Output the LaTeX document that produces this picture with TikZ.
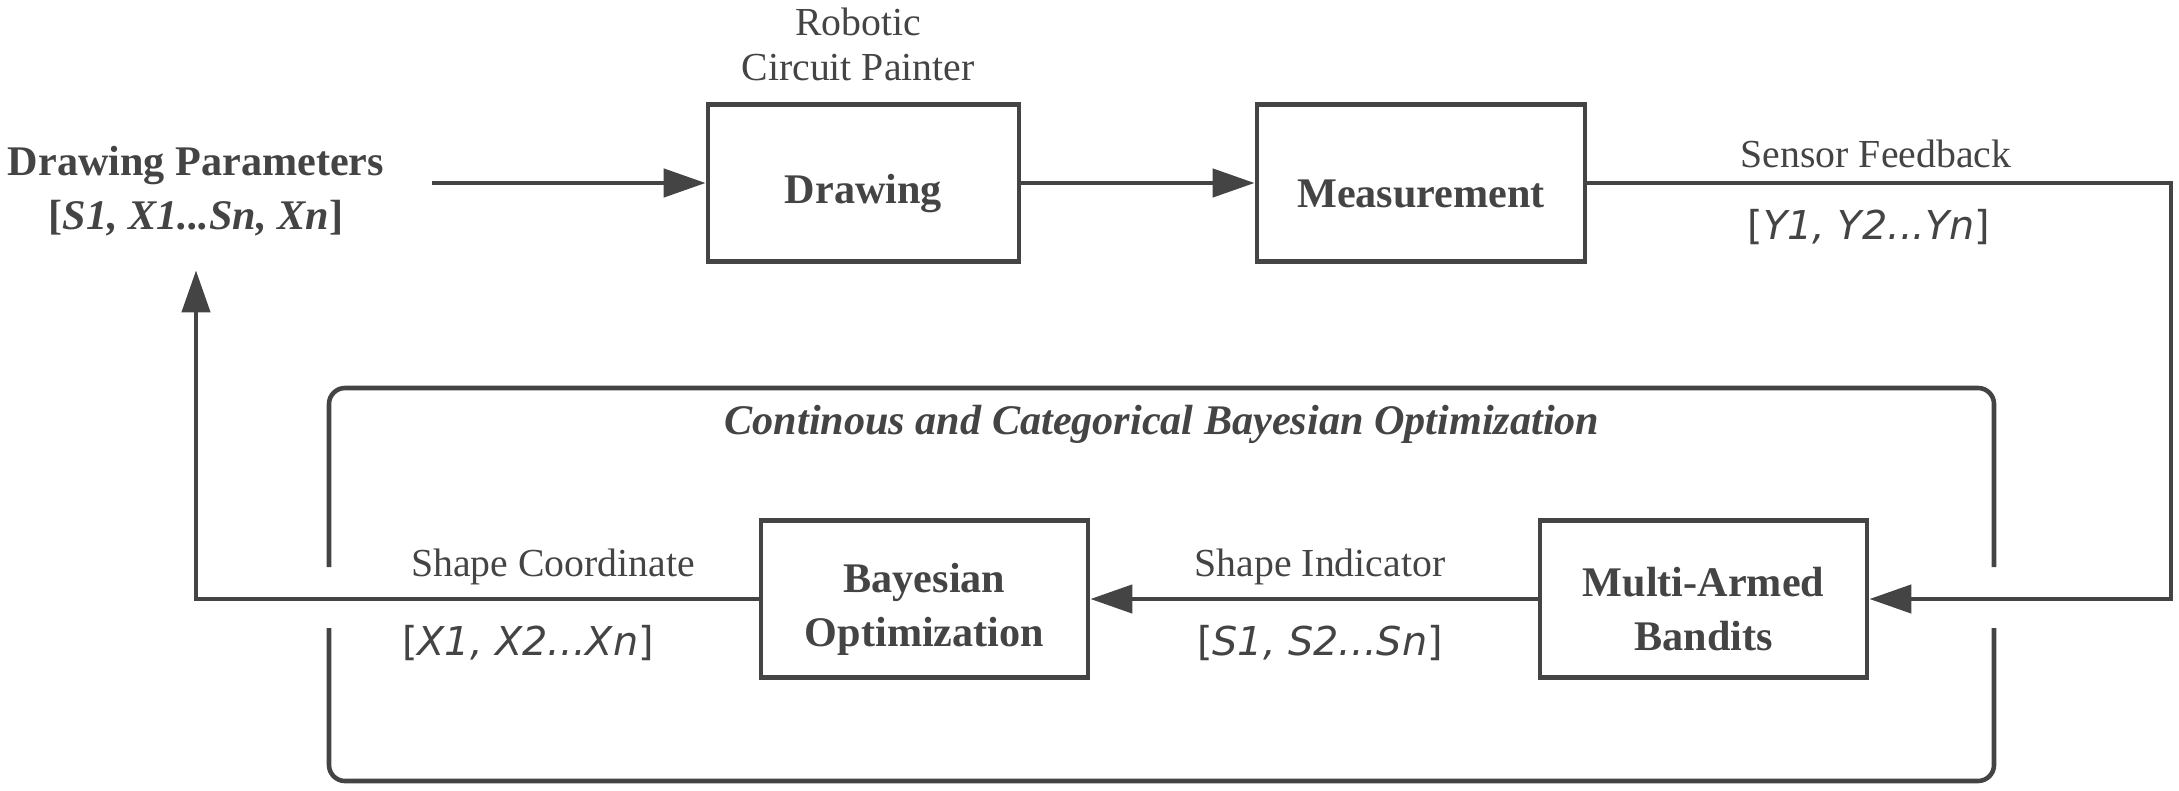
\documentclass[tikz,border=0pt]{standalone}
\usepackage{fontspec}
\setmainfont{Liberation Serif}
\newfontfamily\vecfont{DejaVu Sans}
\usetikzlibrary{arrows.meta,positioning}
\definecolor{ink}{RGB}{68,68,68}
\newcommand{\blockfont}{\fontsize{12}{15.4}\selectfont\bfseries}
\newcommand{\notefont}{\fontsize{11.3}{12.8}\selectfont}
\newcommand{\vecsize}{\fontsize{11.3}{12.8}\selectfont\vecfont}
\newcommand{\boxstrut}{\rule{0pt}{5mm}}

\tikzset{
  block/.style={draw=ink, line width=1.3pt, minimum width=3.27cm, minimum height=1.57cm,
    align=center, text=ink, font=\blockfont},
  flow/.style={draw=ink, line width=1.3pt, -{Triangle[length=4.2mm,width=2.8mm]}},
  wire/.style={draw=ink, line width=1.3pt, rounded corners=1.6mm},
  note/.style={text=ink, align=center, font=\notefont},
  vec/.style={text=ink, font=\vecsize},
}

\begin{document}
\begin{tikzpicture}[x=0.01cm,y=-0.01cm]
  \useasboundingbox (0,0) rectangle (2179,791);
  % top row
  \node[block, minimum width=3.11cm] (drawing) at (863.5,183) {\boxstrut Drawing};
  \node[block, minimum width=3.28cm] (measure) at (1421,183) {\boxstrut Measurement};
  \node[note, font=\blockfont, align=center] (params) at (196,191)
    {Drawing Parameters\\{[}\textit{S1, X1...Sn, Xn}]};
  \node[note] (painter) at (858,44) {Robotic\\Circuit Painter};
  \node[note] (sensor) at (1876,154) {Sensor Feedback};
  \node[vec] (ylist) at (1869,227) {[\textit{Y1, Y2...Yn}]};
  % bottom row
  \node[block] (bayes) at (924.5,599) {\boxstrut Bayesian\\Optimization};
  \node[block] (bandit) at (1703.5,599) {\boxstrut Multi-Armed\\Bandits};
  \node[note] (coordlbl) at (553,567) {Shape Coordinate};
  \node[vec] (xlist) at (528,643) {[\textit{X1, X2...Xn}]};
  \node[note] (indlbl) at (1320,567) {Shape Indicator};
  \node[vec] (slist) at (1320,643) {[\textit{S1, S2...Sn}]};
  \node[note, font=\blockfont] (loop) at (1162,424)
    {\textit{Continous and Categorical Bayesian Optimization}};
  \coordinate (turn) at (2171,599);
  % frame around the optimizer
  \draw[wire] (329,567) -- (329,388) -- (1994,388) -- (1994,567);
  \draw[wire] (329,628) -- (329,781) -- (1994,781) -- (1994,628);
  % connectors
  \draw[flow, shorten <=3.5mm] (params.east |- drawing.west) -- (drawing.west);
  \draw[flow] (drawing) -- (measure);
  \draw[flow] (measure.east) -| (turn) -- (bandit.east);
  \draw[flow] (bandit) -- (bayes);
  \draw[flow, shorten >=2.2mm] (bayes.west) -| (params.south);
\end{tikzpicture}
\end{document}
